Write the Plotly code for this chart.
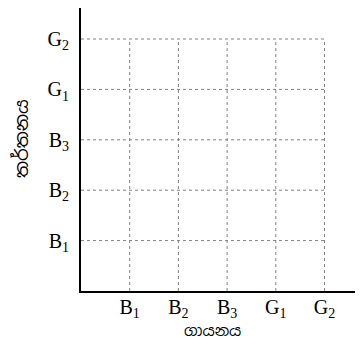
import plotly.graph_objects as go

# Data: categories on each axis (subscripted labels)
x_categories = ["B<sub>1</sub>", "B<sub>2</sub>", "B<sub>3</sub>", "G<sub>1</sub>", "G<sub>2</sub>"]
y_categories = ["B<sub>1</sub>", "B<sub>2</sub>", "B<sub>3</sub>", "G<sub>1</sub>", "G<sub>2</sub>"]
x_positions = [1, 2, 3, 4, 5]
y_positions = [1, 2, 3, 4, 5]
x_title = "ගායනය"
y_title = "තර්තනය"

# page body has an 8px margin, so the figure is a bit smaller than the window
OFF = 8
W, H = 363 - OFF, 345 - OFF
L, R, T, B = 81 - OFF, 0, 0, 54
plot_w = W - L - R
plot_h = H - T - B
x_step = 48.7
y_step = 50.4
x_max = plot_w / x_step
y_max = plot_h / y_step

grid_style = dict(color="#808080", width=1, dash="dot")

fig = go.Figure()
xmax_grid = max(x_positions)
ymax_grid = max(y_positions)
# horizontal grid lines (stop at last x category)
for yv in y_positions:
    fig.add_trace(go.Scatter(x=[0, xmax_grid], y=[yv, yv], mode="lines",
                             line=grid_style, hoverinfo="skip", showlegend=False))
# vertical grid lines (stop at last y category)
for xv in x_positions:
    fig.add_trace(go.Scatter(x=[xv, xv], y=[0, ymax_grid], mode="lines",
                             line=grid_style, hoverinfo="skip", showlegend=False))

tick_font = dict(family="Liberation Serif, Times New Roman, serif", size=20, color="black")
title_font = dict(family="Noto Sans Sinhala, Iskoola Pota, sans-serif", size=15, color="black")

fig.update_layout(
    width=W, height=H,
    margin=dict(l=L, r=R, t=T, b=B, pad=0),
    paper_bgcolor="white", plot_bgcolor="white",
    showlegend=False,
    xaxis=dict(range=[0, x_max], tickmode="array", tickvals=x_positions,
               ticktext=x_categories, showgrid=False, zeroline=False,
               showline=True, linecolor="black", linewidth=2,
               ticks="", ticklabelstandoff=-3, tickfont=tick_font, fixedrange=True),
    yaxis=dict(range=[0, y_max], tickmode="array", tickvals=y_positions,
               ticktext=y_categories, showgrid=False, zeroline=False,
               showline=True, linecolor="black", linewidth=2,
               ticks="", ticklabelstandoff=6, tickfont=tick_font, fixedrange=True),
    annotations=[
        dict(text=x_title, xref="paper", yref="paper",
             x=(212 - 81) / plot_w, y=(291 - 330) / plot_h,
             xanchor="center", yanchor="middle", showarrow=False,
             font=title_font),
        dict(text=y_title, xref="paper", yref="paper", textangle=-90,
             x=(21 - 81) / plot_w, y=(291 - 139) / plot_h,
             xanchor="center", yanchor="middle", showarrow=False,
             font=dict(title_font, size=18)),
    ],
)

fig.write_html("out.html")
